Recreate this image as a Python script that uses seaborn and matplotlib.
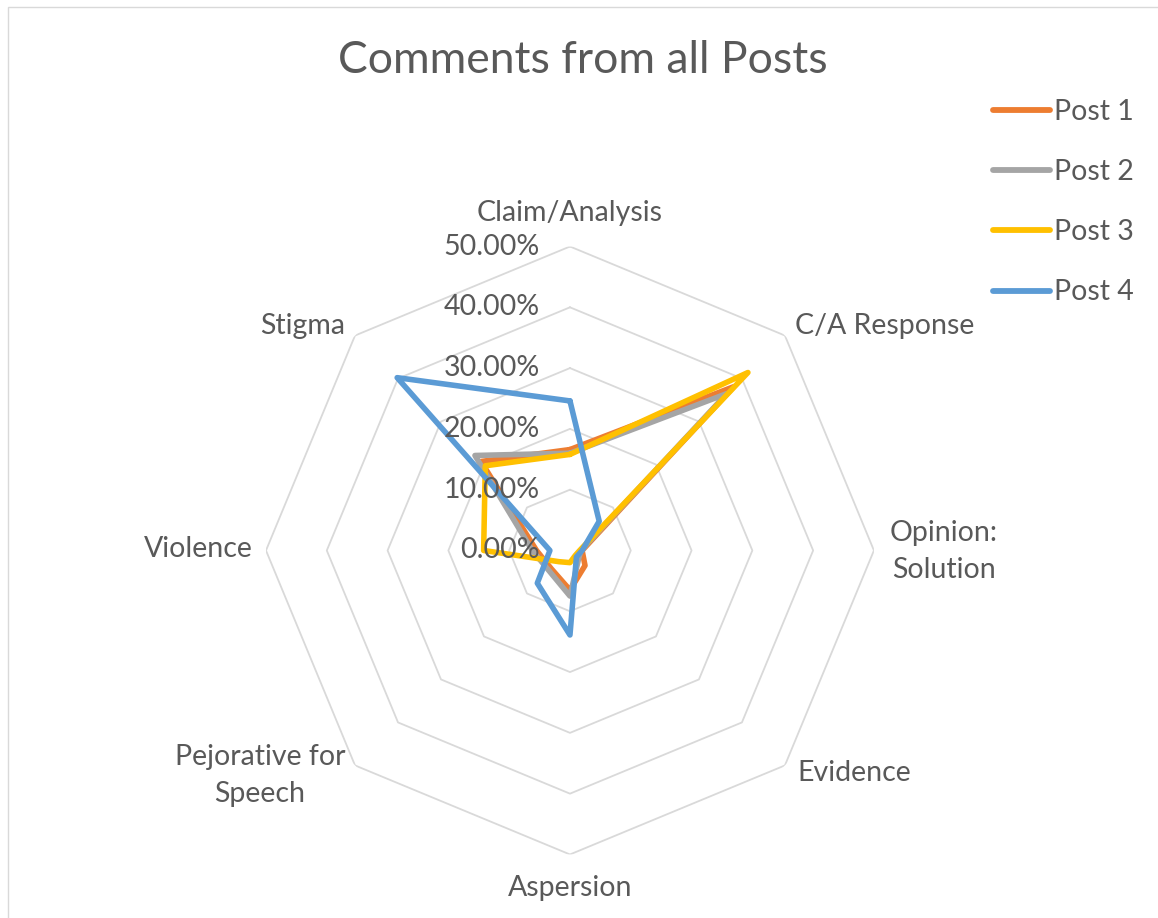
import numpy as np
import pandas as pd
import matplotlib
matplotlib.use('Agg')
import matplotlib.pyplot as plt
from matplotlib.patches import Rectangle
import seaborn as sns

# categories in clockwise order, starting at the top
categories = ['Claim/Analysis', 'C/A Response', 'Opinion:\nSolution', 'Evidence',
              'Aspersion', 'Pejorative for\nSpeech', 'Violence', 'Stigma']

# values, in percent
post1 = [16.6, 38.1, 2.0, 3.5, 6.5, 4.3, 5.5, 20.7]
post2 = [16.0, 36.5, 1.8, 2.0, 7.5, 4.8, 6.2, 22.1]
post3 = [15.8, 41.4, 1.6, 1.2, 2.0, 2.6, 14.2, 19.7]
post4 = [24.6, 6.8, 2.0, 1.5, 13.9, 7.6, 3.3, 40.2]

series_names = ['Post 1', 'Post 2', 'Post 3', 'Post 4']
series_colors = ['#ED7D31', '#A5A5A5', '#FFC000', '#5B9BD5']
ring_values = [0.0, 0.1, 0.2, 0.3, 0.4, 0.5]
ring_labels = ['0.00%', '10.00%', '20.00%', '30.00%', '40.00%', '50.00%']

TEXT = '#595959'
GRID = '#D9D9D9'

sns.set_style('white')
plt.rcParams['font.family'] = ['Lato', 'DejaVu Sans']

n = len(categories)
theta = np.linspace(0, 2 * np.pi, n, endpoint=False)
theta_closed = np.append(theta, 2 * np.pi)

# long-form table, each polygon closed by repeating its first point
rows = []
for name, vals in zip(series_names, [post1, post2, post3, post4]):
    closed = list(vals) + [vals[0]]
    for t, v in zip(theta_closed, closed):
        rows.append({'theta': t, 'value': v / 100.0, 'series': name})
df = pd.DataFrame(rows)

fig = plt.figure(figsize=(11.58, 9.18), dpi=100)
fig.patches.append(Rectangle((8 / 1158, -0.1), 1.2, 1 - 7 / 918 + 0.1,
                             transform=fig.transFigure, fill=False,
                             edgecolor=GRID, lw=1.0))

ax = fig.add_axes([0.2297, 0.0692, 0.525, 0.6623], projection='polar')
ax.set_theta_zero_location('N')
ax.set_theta_direction(-1)
ax.set_ylim(0, 0.5)
ax.grid(False)
ax.set_xticks([])
ax.set_yticks([])
ax.spines['polar'].set_visible(False)
ax.set_facecolor('none')

# octagonal gridlines
for r in ring_values[1:]:
    ax.plot(theta_closed, [r] * (n + 1), color=GRID, lw=1.3, zorder=0)

sns.lineplot(data=df, x='theta', y='value', hue='series', palette=series_colors,
             sort=False, estimator=None, linewidth=4.0, ax=ax, legend=True)
for line in ax.lines[len(ring_values) - 1:]:
    line.set_linewidth(4.0)
    line.set_solid_joinstyle('round')
    line.set_solid_capstyle('round')
ax.set_xlabel('')
ax.set_ylabel('')
handles, labels = ax.get_legend_handles_labels()
ax.get_legend().remove()
for h in handles:
    h.set_linewidth(4.2)
    h.set_solid_capstyle('round')

# radial value labels up the top spoke
for r, lab in zip(ring_values, ring_labels):
    ax.annotate(lab, xy=(0, r), xytext=(-30, 0), textcoords='offset pixels',
                ha='right', va='center', fontsize=20.5, color=TEXT,
                annotation_clip=False)

# category labels around the outer ring
label_offsets = [(0, 34), (10, 10), (16, -1), (12, -8),
                 (0, -34), (-10, -10), (-13, 1), (-10, 10)]
label_ha = ['center', 'left', 'left', 'left', 'center', 'right', 'right', 'right']
for t, lab, off, ha in zip(theta, categories, label_offsets, label_ha):
    ax.annotate(lab, xy=(t, 0.5), xytext=off, textcoords='offset pixels',
                ha=ha, va='center', multialignment='center', linespacing=1.55,
                fontsize=20.5, color=TEXT, annotation_clip=False)

fig.text(583 / 1158, 1 - 73 / 918, 'Comments from all Posts', ha='center',
         va='baseline', fontsize=32, color=TEXT)

fig.legend(handles, labels, loc='upper left',
           bbox_to_anchor=(993 / 1158, 1 - 99 / 918), frameon=False,
           borderpad=0, borderaxespad=0, handlelength=2.0, handletextpad=0.15,
           labelspacing=1.2, fontsize=20.5, labelcolor=TEXT)

fig.savefig('out.png', dpi=100)
